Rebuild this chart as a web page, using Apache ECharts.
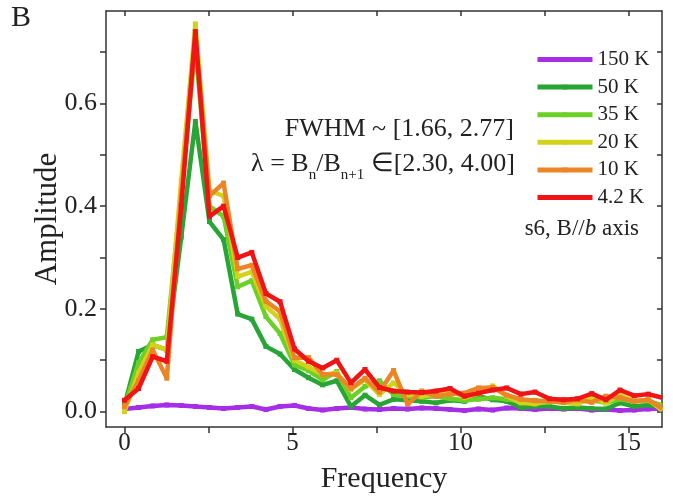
<!DOCTYPE html>
<html>
<head>
<meta charset="utf-8">
<script src="https://cdn.jsdelivr.net/npm/echarts@6/dist/echarts.min.js"></script>
<style>html,body{margin:0;padding:0;background:#fff;}#c{width:673px;height:504px;}</style>
</head>
<body>
<div id="c"></div>
<script>
// Frequency grid (sample positions)
var freq = [0.00,0.42,0.84,1.26,1.69,2.11,2.53,2.95,3.37,3.79,4.21,4.63,5.06,5.48,5.90,6.32,6.74,7.16,7.59,8.01,8.43,8.85,9.27,9.69,10.12,10.54,10.96,11.38,11.80,12.22,12.65,13.07,13.49,13.91,14.33,14.75,15.17,15.59,16.01];
var seriesNames = ['150 K','50 K','35 K','20 K','10 K','4.2 K'];
var amp150 = [0.005,0.008,0.011,0.013,0.012,0.010,0.008,0.006,0.008,0.010,0.004,0.010,0.012,0.006,0.003,0.006,0.008,0.005,0.004,0.006,0.005,0.007,0.006,0.004,0.002,0.005,0.003,0.007,0.006,0.004,0.006,0.005,0.006,0.003,0.004,0.002,0.003,0.005,0.006];
var amp50 = [0.012,0.117,0.130,0.120,0.340,0.565,0.370,0.335,0.190,0.180,0.127,0.112,0.082,0.066,0.052,0.060,0.010,0.032,0.013,0.024,0.022,0.020,0.017,0.022,0.020,0.030,0.023,0.020,0.008,0.010,0.010,0.006,0.008,0.006,0.005,0.017,0.010,0.013,0.008];
var amp35 = [0.010,0.095,0.140,0.145,0.430,0.710,0.400,0.380,0.243,0.255,0.185,0.152,0.091,0.080,0.062,0.078,0.027,0.049,0.060,0.033,0.030,0.028,0.030,0.025,0.022,0.024,0.027,0.024,0.020,0.022,0.018,0.020,0.019,0.022,0.017,0.024,0.020,0.021,0.012];
var amp20 = [0.000,0.075,0.130,0.120,0.450,0.755,0.430,0.420,0.263,0.272,0.205,0.180,0.100,0.087,0.072,0.075,0.043,0.062,0.033,0.056,0.033,0.030,0.034,0.040,0.028,0.035,0.050,0.030,0.017,0.015,0.020,0.017,0.015,0.027,0.017,0.033,0.020,0.023,0.002];
var amp10 = [0.010,0.060,0.120,0.065,0.420,0.730,0.420,0.445,0.278,0.285,0.215,0.195,0.105,0.105,0.072,0.072,0.045,0.065,0.038,0.080,0.014,0.040,0.030,0.034,0.036,0.046,0.047,0.032,0.024,0.021,0.020,0.018,0.023,0.018,0.030,0.027,0.020,0.023,0.006];
var amp42 = [0.022,0.045,0.107,0.098,0.400,0.740,0.380,0.400,0.300,0.310,0.230,0.214,0.122,0.098,0.085,0.100,0.056,0.082,0.047,0.040,0.038,0.037,0.040,0.045,0.030,0.036,0.042,0.046,0.034,0.038,0.025,0.023,0.025,0.035,0.023,0.042,0.031,0.034,0.027];
var xTickValues = [0,2.5,5,7.5,10,12.5,15];
var xLabelValues = [0,5,10,15];
var yTickValues = [0,0.1,0.2,0.3,0.4,0.5,0.6,0.7];
var yLabelValues = [0,0.2,0.4,0.6];

var colors = ['#a52ee6','#27a535','#6dd027','#d2d21a','#ec8525','#f01414'];
var amps = [amp150, amp50, amp35, amp20, amp10, amp42];
var FAM = '"Liberation Serif","Times New Roman",serif';

var series = amps.map(function (arr, i) {
  return {
    name: seriesNames[i],
    type: 'line',
    data: arr.map(function (v, j) { return [freq[j], v]; }),
    symbol: 'rect',
    symbolSize: 5,
    showSymbol: true,
    color: colors[i],
    lineStyle: { width: 4.5, color: colors[i] },
    itemStyle: { color: colors[i] },
    z: 2 + i,
    animation: false
  };
});

// Build an annotation line from pieces (main text + subscripts), right-aligned
var measureCtx = document.createElement('canvas').getContext('2d');
function textPieces(pieces, rightX, midY, mainSize, subSize, subShift) {
  var widths = pieces.map(function (p) {
    var size = p.sub ? subSize : mainSize;
    measureCtx.font = (p.italic ? 'italic ' : '') + size + 'px ' + FAM;
    return measureCtx.measureText(p.t).width;
  });
  var total = widths.reduce(function (a, b) { return a + b; }, 0);
  var x = rightX - total;
  var out = [];
  pieces.forEach(function (p, i) {
    var size = p.sub ? subSize : mainSize;
    out.push({
      type: 'text', x: x, y: midY + (p.sub ? subShift : 0), z: 100,
      style: { text: p.t, font: (p.italic ? 'italic ' : '') + size + 'px ' + FAM, fill: '#222',
        align: 'left', verticalAlign: 'middle' }
    });
    x += widths[i];
  });
  return out;
}

var graphics = [
  { type: 'text', left: 11, top: 3, style: { text: 'B', font: '30px ' + FAM, fill: '#222' } }
];
graphics = graphics.concat(textPieces([{ t: 'FWHM ~ [1.66, 2.77]' }], 514, 129, 26, 15, 0));
graphics = graphics.concat(textPieces([
  { t: 'λ = B' }, { t: 'n', sub: true }, { t: '/B' }, { t: 'n+1', sub: true }, { t: ' ∈[2.30, 4.00]' }
], 515, 164, 26, 15, 11));
graphics = graphics.concat(textPieces([
  { t: 's6, B//' }, { t: 'b', italic: true }, { t: ' axis' }
], 639, 229, 23, 15, 0));

var axisLineStyle = { color: '#333', width: 1.5 };
var chart = echarts.init(document.getElementById('c'), null, { renderer: 'canvas' });
chart.setOption({
  animation: false,
  backgroundColor: '#fff',
  grid: { left: 106, right: 11, top: 11, bottom: 77, containLabel: false },
  xAxis: [{
    type: 'value', min: -0.55, max: 16, position: 'bottom',
    axisLine: { show: true, onZero: false, lineStyle: axisLineStyle },
    axisTick: { show: true, inside: false, length: 6, customValues: xTickValues, lineStyle: axisLineStyle },
    axisLabel: { customValues: xLabelValues, fontSize: 25, fontFamily: FAM, color: '#222', margin: 4 },
    splitLine: { show: false },
    name: 'Frequency', nameLocation: 'middle', nameGap: 37,
    nameTextStyle: { fontSize: 30, fontFamily: FAM, color: '#222' }
  }, {
    type: 'value', min: -0.55, max: 16, position: 'top',
    axisLine: { show: true, onZero: false, lineStyle: axisLineStyle },
    axisTick: { show: true, inside: true, length: 5, customValues: xTickValues, lineStyle: axisLineStyle },
    axisLabel: { show: false },
    splitLine: { show: false }
  }],
  yAxis: [{
    type: 'value', min: -0.03, max: 0.78, position: 'left',
    axisLine: { show: true, onZero: false, lineStyle: axisLineStyle },
    axisTick: { show: true, inside: false, length: 6, customValues: yTickValues, lineStyle: axisLineStyle },
    axisLabel: { customValues: yLabelValues, fontSize: 26, fontFamily: FAM, color: '#222', margin: 9,
      formatter: function (v) { return v.toFixed(1); } },
    splitLine: { show: false },
    name: 'Amplitude', nameLocation: 'middle', nameGap: 43, nameRotate: 90, nameMoveOverlap: false,
    nameTextStyle: { fontSize: 31, fontFamily: FAM, color: '#222' }
  }, {
    type: 'value', min: -0.03, max: 0.78, position: 'right',
    axisLine: { show: true, onZero: false, lineStyle: axisLineStyle },
    axisTick: { show: true, inside: true, length: 5, customValues: yTickValues, lineStyle: axisLineStyle },
    axisLabel: { show: false },
    splitLine: { show: false }
  }],
  legend: {
    data: seriesNames,
    orient: 'vertical',
    left: 535, top: 49, padding: 0,
    itemWidth: 55, itemHeight: 6, itemGap: 6.6,
    lineStyle: { width: 5 },
    textStyle: { fontSize: 21, lineHeight: 21, fontFamily: FAM, color: '#222' },
    selectedMode: false
  },
  graphic: graphics,
  series: series
});
</script>
</body>
</html>
